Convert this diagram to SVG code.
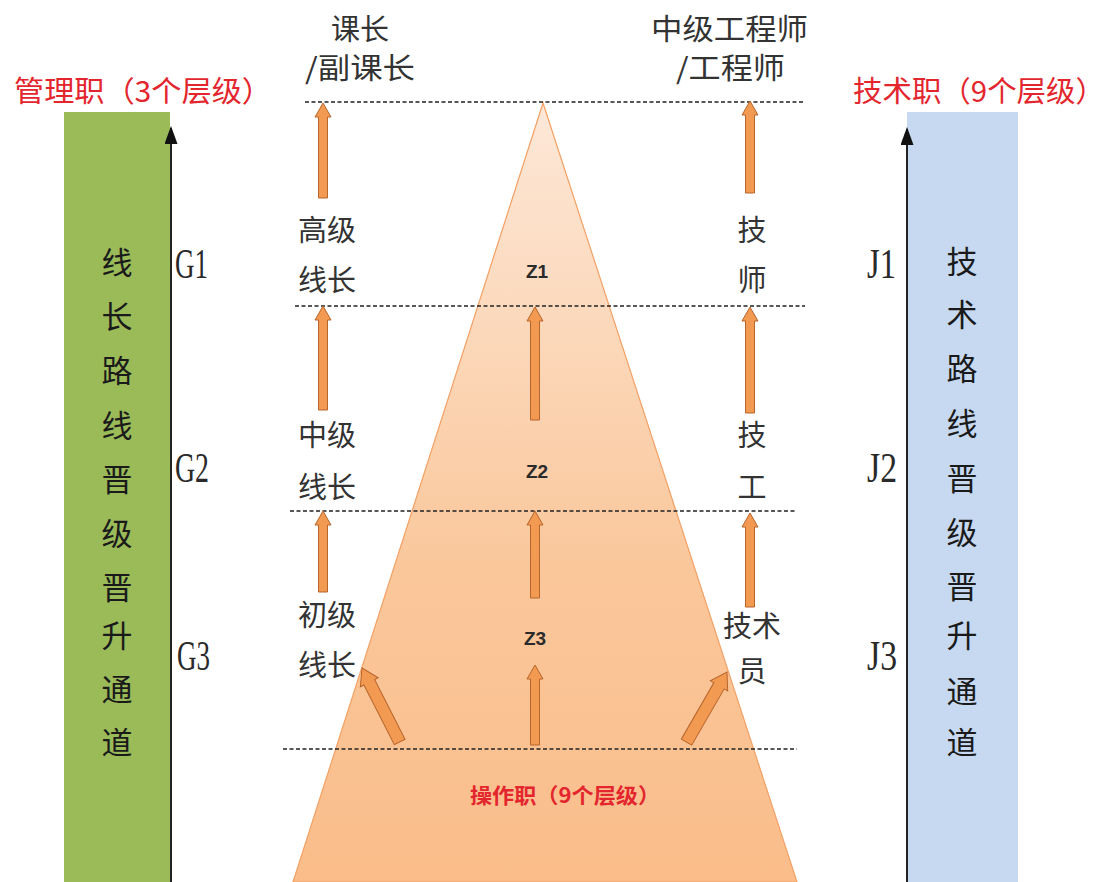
<svg xmlns="http://www.w3.org/2000/svg" width="1110" height="882" viewBox="0 0 1110 882">
<style>
.cjk{font-family:"Noto Sans CJK SC","Noto Sans",sans-serif}
.title{font-size:29px;fill:#E3262E}
.lbl{font-size:29px;fill:#333333}
.vt{font-size:31px;fill:#1A1A1A;text-anchor:middle}
.lv{font-family:"Liberation Serif",serif;font-size:42px;fill:#2A2A2A}
.z{font-family:"Liberation Sans Narrow","Liberation Sans",sans-serif;fill:#2A2A2A;text-anchor:middle;font-weight:bold}
.dash{stroke:#222;stroke-width:1.4;stroke-dasharray:4 2.5;fill:none}
.oa{fill:#F29A52;stroke:#B8652C;stroke-width:1}
.axis{stroke:#222;stroke-width:2;fill:none}
</style>
<defs>
<linearGradient id="tri" x1="0" y1="103" x2="0" y2="882" gradientUnits="userSpaceOnUse">
<stop offset="0" stop-color="#FDE8D8"/>
<stop offset="0.6" stop-color="#FAC79B"/>
<stop offset="1" stop-color="#FABD8A"/>
</linearGradient>
<marker id="ah" markerWidth="18" markerHeight="13" refX="16" refY="6.5" orient="auto" markerUnits="userSpaceOnUse" viewBox="0 0 18 13">
<path d="M0,0 L18,6.5 L0,13 Z" fill="#111"/>
</marker>
</defs>
<rect width="1110" height="882" fill="#FFFFFF"/>

<g id="management-column">
<rect x="64" y="112" width="106" height="770" fill="#9BBB59"/>
<text class="cjk title" x="14" y="102" textLength="258" lengthAdjust="spacingAndGlyphs">管理职（3个层级）</text>
<text class="cjk vt" x="117"><tspan x="117" y="274">线</tspan><tspan x="117" y="328">长</tspan><tspan x="117" y="382">路</tspan><tspan x="117" y="437">线</tspan><tspan x="117" y="491">晋</tspan><tspan x="117" y="545">级</tspan><tspan x="117" y="599">晋</tspan><tspan x="117" y="647">升</tspan><tspan x="117" y="701">通</tspan><tspan x="117" y="754">道</tspan></text>
</g>

<g id="technical-column">
<rect x="907" y="112" width="111" height="770" fill="#C6D9F1"/>
<text class="cjk title" x="853" y="102" textLength="252" lengthAdjust="spacingAndGlyphs">技术职（9个层级）</text>
<text class="cjk vt" x="962"><tspan x="962" y="273">技</tspan><tspan x="962" y="326">术</tspan><tspan x="962" y="380">路</tspan><tspan x="962" y="435">线</tspan><tspan x="962" y="490">晋</tspan><tspan x="962" y="544">级</tspan><tspan x="962" y="598">晋</tspan><tspan x="962" y="647">升</tspan><tspan x="962" y="703">通</tspan><tspan x="962" y="754">道</tspan></text>
</g>

<g id="operation-pyramid">
<polygon points="543,103 797,882 293,882" fill="url(#tri)" stroke="#F3A064" stroke-width="1.2"/>
<text class="cjk" x="470" y="803" font-size="21" font-weight="bold" fill="#E3262E" textLength="190" lengthAdjust="spacingAndGlyphs">操作职（9个层级）</text>
<text class="z" x="537" y="278" font-size="19">Z1</text>
<text class="z" x="537" y="478" font-size="19">Z2</text>
<text class="z" x="535" y="645" font-size="19">Z3</text>
</g>

<g id="levels">
<text class="lv" x="175" y="278" textLength="33" lengthAdjust="spacingAndGlyphs">G1</text>
<text class="lv" x="175" y="482" textLength="34" lengthAdjust="spacingAndGlyphs">G2</text>
<text class="lv" x="177" y="670" textLength="33" lengthAdjust="spacingAndGlyphs">G3</text>
<text class="lv" x="867" y="278" textLength="29" lengthAdjust="spacingAndGlyphs">J1</text>
<text class="lv" x="867" y="482" textLength="30" lengthAdjust="spacingAndGlyphs">J2</text>
<text class="lv" x="867" y="670" textLength="30" lengthAdjust="spacingAndGlyphs">J3</text>
</g>

<g id="mgmt-titles">
<text class="cjk lbl" x="360" y="40" text-anchor="middle">课长</text>
<text class="cjk lbl" x="305" y="79" textLength="110" lengthAdjust="spacingAndGlyphs">/副课长</text>
<text class="cjk lbl" x="327" y="241" text-anchor="middle">高级</text>
<text class="cjk lbl" x="327" y="291" text-anchor="middle">线长</text>
<text class="cjk lbl" x="327" y="446" text-anchor="middle">中级</text>
<text class="cjk lbl" x="327" y="498" text-anchor="middle">线长</text>
<text class="cjk lbl" x="327" y="626" text-anchor="middle">初级</text>
<text class="cjk lbl" x="327" y="676" text-anchor="middle">线长</text>
</g>

<g id="tech-titles">
<text class="cjk lbl" x="651" y="40" textLength="157" lengthAdjust="spacingAndGlyphs">中级工程师</text>
<text class="cjk lbl" x="676" y="79" textLength="109" lengthAdjust="spacingAndGlyphs">/工程师</text>
<text class="cjk lbl" x="752" y="241" text-anchor="middle">技</text>
<text class="cjk lbl" x="752" y="291" text-anchor="middle">师</text>
<text class="cjk lbl" x="752" y="446" text-anchor="middle">技</text>
<text class="cjk lbl" x="752" y="498" text-anchor="middle">工</text>
<text class="cjk lbl" x="752" y="637" text-anchor="middle" font-size="27">技术</text>
<text class="cjk lbl" x="752" y="682" text-anchor="middle" font-size="27">员</text>
</g>

<g id="connectors">
<line class="dash" x1="305" y1="102" x2="803" y2="102"/>
<line class="dash" x1="295" y1="306" x2="805" y2="306"/>
<line class="dash" x1="290" y1="511" x2="795" y2="511"/>
<line class="dash" x1="283" y1="749" x2="797" y2="749"/>

<line class="axis" x1="171" y1="882" x2="171" y2="128" marker-end="url(#ah)"/>
<line class="axis" x1="907" y1="882" x2="907" y2="129" marker-end="url(#ah)"/>

<path class="oa" d="M323,103 L331,117 L327.5,117 L327.5,198 L318.5,198 L318.5,117 L315,117 Z"/>
<path class="oa" d="M323,306 L331,320 L327.5,320 L327.5,410 L318.5,410 L318.5,320 L315,320 Z"/>
<path class="oa" d="M323,511 L331,525 L327.5,525 L327.5,592 L318.5,592 L318.5,525 L315,525 Z"/>

<path class="oa" d="M535,307 L543,321 L539.5,321 L539.5,420 L530.5,420 L530.5,321 L527,321 Z"/>
<path class="oa" d="M535,511 L543,525 L539.5,525 L539.5,598 L530.5,598 L530.5,525 L527,525 Z"/>
<path class="oa" d="M535,665 L543,679 L539.5,679 L539.5,745 L530.5,745 L530.5,679 L527,679 Z"/>

<path class="oa" d="M750,101 L758,115 L754.5,115 L754.5,193 L745.5,193 L745.5,115 L742,115 Z"/>
<path class="oa" d="M750,307 L758,321 L754.5,321 L754.5,413 L745.5,413 L745.5,321 L742,321 Z"/>
<path class="oa" d="M750,513 L758,527 L754.5,527 L754.5,607 L745.5,607 L745.5,527 L742,527 Z"/>

<path class="oa" transform="translate(362,668) rotate(-27)" d="M0,0 L10,16 L6,16 L6,83 L-6,83 L-6,16 L-10,16 Z"/>
<path class="oa" transform="translate(727,672) rotate(30)" d="M0,0 L10,16 L6,16 L6,81 L-6,81 L-6,16 L-10,16 Z"/>
</g>
</svg>
